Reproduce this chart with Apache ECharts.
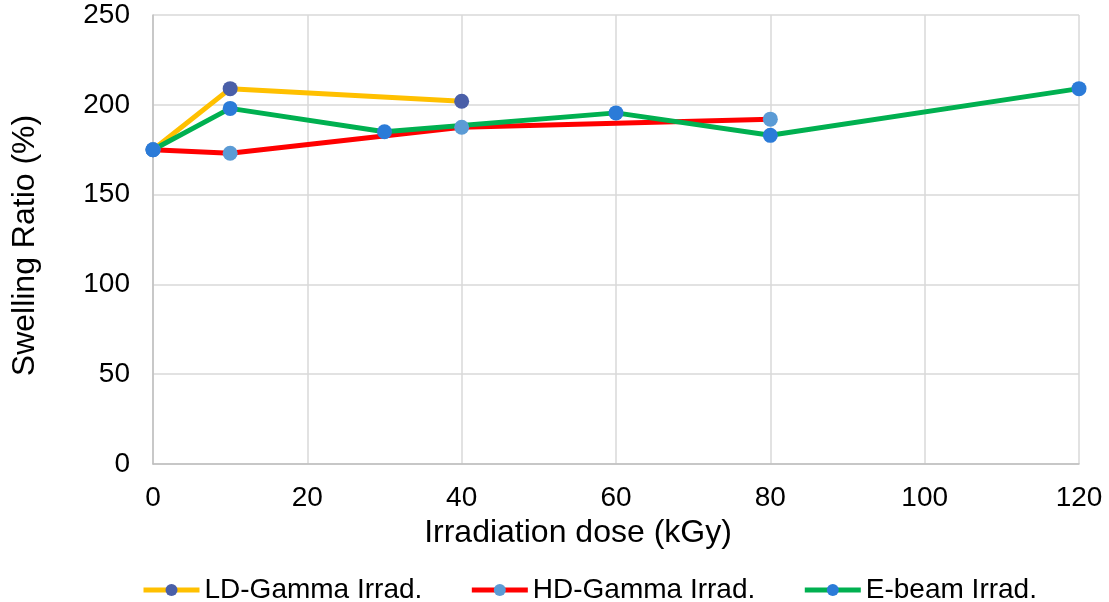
<!DOCTYPE html>
<html>
<head>
<meta charset="utf-8">
<script src="https://cdn.jsdelivr.net/npm/echarts@6/dist/echarts.min.js"></script>
<style>
  html, body { margin: 0; padding: 0; background: #fff; }
  #chart { width: 1109px; height: 602px; }
</style>
</head>
<body>
<div id="chart"></div>
<script>
// irradiation dose (kGy) and swelling ratio (%)
var ldDose = [0, 10, 40];
var ldRatio = [175, 209, 202];
var hdDose = [0, 10, 40, 80];
var hdRatio = [175, 173, 187.5, 192];
var ebDose = [0, 10, 30, 60, 80, 120];
var ebRatio = [175, 198, 185, 195.5, 183, 209];

function pairs(xs, ys) {
    return xs.map(function (x, i) { return [x, ys[i]]; });
}

var font = 'Liberation Sans, Arial, sans-serif';

function line(name, xs, ys, lineColor, dotColor) {
    return {
        name: name,
        type: 'line',
        data: pairs(xs, ys),
        symbol: 'circle',
        symbolSize: 15,
        lineStyle: { color: lineColor, width: 5 },
        itemStyle: { color: dotColor },
        color: lineColor,
        z: 2
    };
}

var myChart = echarts.init(document.getElementById('chart'));
var option = {
    animation: false,
    grid: { left: 153, right: 30, top: 15, bottom: 138, outerBoundsMode: 'none', containLabel: false },
    legend: {
        top: 576,
        left: 141,
        padding: 0,
        itemGap: 47,
        itemWidth: 56,
        itemHeight: 15,
        lineStyle: { width: 5 },
        textStyle: { fontFamily: font, fontSize: 28, color: '#000' },
        data: ['LD-Gamma Irrad.', 'HD-Gamma Irrad.', 'E-beam Irrad.']
    },
    xAxis: {
        type: 'value',
        min: 0, max: 120, interval: 20,
        name: 'Irradiation dose (kGy)',
        nameLocation: 'middle',
        nameGap: 48,
        nameTextStyle: { fontFamily: font, fontSize: 32, color: '#000', padding: [0, 76, 0, 0] },
        axisLine: { show: true, lineStyle: { color: '#bfbfbf', width: 1.5 } },
        axisTick: { show: false },
        axisLabel: { fontFamily: font, fontSize: 28, color: '#000', margin: 20 },
        splitLine: { show: true, lineStyle: { color: '#d9d9d9', width: 1.5 } }
    },
    yAxis: {
        type: 'value',
        min: 0, max: 250, interval: 50,
        name: 'Swelling Ratio (%)',
        nameLocation: 'middle',
        nameGap: 112,
        nameTextStyle: { fontFamily: font, fontSize: 32, color: '#000', padding: [0, 12, 0, 0] },
        axisLine: { show: true, lineStyle: { color: '#bfbfbf', width: 1.5 } },
        axisTick: { show: false },
        axisLabel: { fontFamily: font, fontSize: 28, color: '#000', margin: 23 },
        splitLine: { show: true, lineStyle: { color: '#d9d9d9', width: 1.5 } }
    },
    series: [
        line('LD-Gamma Irrad.', ldDose, ldRatio, '#FFC000', '#4A5FA8'),
        line('HD-Gamma Irrad.', hdDose, hdRatio, '#FF0000', '#5B9BD5'),
        line('E-beam Irrad.', ebDose, ebRatio, '#00B050', '#2B7BD8')
    ]
};
myChart.setOption(option);
</script>
</body>
</html>
